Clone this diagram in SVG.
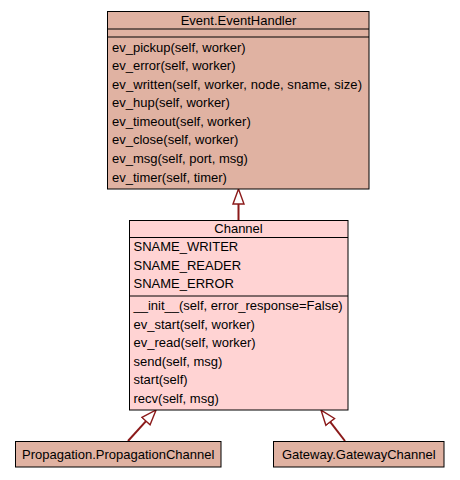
<svg xmlns="http://www.w3.org/2000/svg" width="460" height="480" viewBox="0 0 460 480">
<style>
  text { font-family: "Liberation Sans", Arial, Helvetica, sans-serif; font-size: 13px; fill: #000; }
  .t { text-anchor: middle; }
  .ext { fill: #e0b2a2; stroke: #000; stroke-width: 1; }
  .main { fill: #ffd3d3; stroke: #000; stroke-width: 1; }
  .sep { stroke: #000; stroke-width: 1; }
  .edge { stroke: #8b1a1a; stroke-width: 2; fill: none; }
</style>
<defs>
  <marker id="inh" markerUnits="userSpaceOnUse" markerWidth="18" markerHeight="14" viewBox="-1 -7 18 14" refX="0" refY="0" orient="auto">
    <path d="M0,-5.5 L15,0 L0,5.5 Z" fill="#fff" stroke="#8b1a1a" stroke-width="1.4"/>
  </marker>
</defs>
<rect width="460" height="480" fill="#fff"/>
<g id="connectors">
  <line class="edge" x1="238.5" y1="220" x2="238.5" y2="204" marker-end="url(#inh)"/>
  <line class="edge" x1="128" y1="441" x2="146" y2="421.1" marker-end="url(#inh)"/>
  <line class="edge" x1="345" y1="441" x2="330.2" y2="421.9" marker-end="url(#inh)"/>
</g>
<g id="EventHandler">
  <rect class="ext" x="107.5" y="11.5" width="261.5" height="177.5"/>
  <line class="sep" x1="107.5" y1="29" x2="369" y2="29"/>
  <line class="sep" x1="107.5" y1="37" x2="369" y2="37"/>
  <text class="t" x="238.5" y="25">Event.EventHandler</text>
  <text x="112" y="51.5">ev_pickup(self, worker)</text>
  <text x="112" y="70">ev_error(self, worker)</text>
  <text x="112" y="88.6" textLength="250" lengthAdjust="spacing">ev_written(self, worker, node, sname, size)</text>
  <text x="112" y="107.2">ev_hup(self, worker)</text>
  <text x="112" y="125.8">ev_timeout(self, worker)</text>
  <text x="112" y="144.4">ev_close(self, worker)</text>
  <text x="112" y="163">ev_msg(self, port, msg)</text>
  <text x="112" y="181.5">ev_timer(self, timer)</text>
</g>
<g id="Channel">
  <rect class="main" x="129.5" y="220.5" width="218.5" height="189.5"/>
  <line class="sep" x1="129.5" y1="237.5" x2="348" y2="237.5"/>
  <line class="sep" x1="129.5" y1="296" x2="348" y2="296"/>
  <text class="t" x="238.5" y="233">Channel</text>
  <text x="133.5" y="251">SNAME_WRITER</text>
  <text x="133.5" y="269.5">SNAME_READER</text>
  <text x="133.5" y="288">SNAME_ERROR</text>
  <text x="133.5" y="310">__init__(self, error_response=False)</text>
  <text x="133.5" y="328.5">ev_start(self, worker)</text>
  <text x="133.5" y="347">ev_read(self, worker)</text>
  <text x="133.5" y="365.5">send(self, msg)</text>
  <text x="133.5" y="384">start(self)</text>
  <text x="133.5" y="402.5">recv(self, msg)</text>
</g>
<g id="PropagationChannel">
  <rect class="ext" x="15.5" y="441.5" width="205.5" height="25.5"/>
  <text class="t" x="118.25" y="458.5">Propagation.PropagationChannel</text>
</g>
<g id="GatewayChannel">
  <rect class="ext" x="273.5" y="441.5" width="170.5" height="25.5"/>
  <text class="t" x="358.75" y="458.5">Gateway.GatewayChannel</text>
</g>
</svg>
